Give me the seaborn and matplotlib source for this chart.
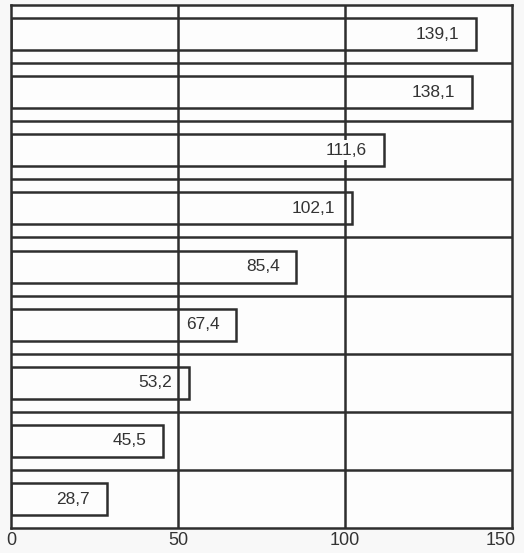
import matplotlib.pyplot as plt
import matplotlib.transforms as mtransforms
import seaborn as sns
import pandas as pd

# neuf lignes, de haut en bas
categories = ['l1', 'l2', 'l3', 'l4', 'l5', 'l6', 'l7', 'l8', 'l9']
valeurs = [139.1, 138.1, 111.6, 102.1, 85.4, 67.4, 53.2, 45.5, 28.7]
etiquettes = [f"{v:.1f}".replace('.', ',') for v in valeurs]
graduations = [0, 50, 100, 150]

sns.set_style('white')
plt.rcParams['font.family'] = ['Liberation Sans', 'DejaVu Sans']

trait = '#2e2e2e'
epaisseur = 1.8
fond = '#fdfdfd'

fig = plt.figure(figsize=(5.24, 5.53), dpi=100, facecolor='#f8f8f8')
ax = fig.add_axes([0.021, 0.045, 0.956, 0.946])
ax.set_facecolor(fond)

df = pd.DataFrame({'categorie': categories, 'valeur': valeurs})
sns.barplot(data=df, x='valeur', y='categorie', orient='h', fill=False,
            color=trait, saturation=1, linewidth=epaisseur, width=0.55, ax=ax)

# quadrillage dessiné à la main, sous les étiquettes
for g in graduations[1:-1]:
    ax.axvline(g, color=trait, lw=epaisseur, zorder=1)
for i in range(len(categories) - 1):
    ax.axhline(i + 0.5, color=trait, lw=epaisseur, zorder=1)

decalage = mtransforms.ScaledTranslation(-12 / 72, 0, fig.dpi_scale_trans)
for i, (v, t) in enumerate(zip(valeurs, etiquettes)):
    ax.text(v, i, t, transform=ax.transData + decalage,
            ha='right', va='center', fontsize=12.5, color='#333333',
            bbox=dict(boxstyle='square,pad=0.15', fc=fond, ec='none'),
            zorder=10)

ax.set_xlim(0, 150)
ax.set_ylim(len(categories) - 0.5, -0.5)
ax.set_xticks(graduations)
ax.grid(False)
ax.tick_params(axis='y', which='both', length=0, labelleft=False)
ax.tick_params(axis='x', length=0, labelsize=13, labelcolor='#333333', pad=3)
ax.set_xlabel('')
ax.set_ylabel('')
for s in ax.spines.values():
    s.set_visible(True)
    s.set_color(trait)
    s.set_linewidth(epaisseur)

# le dernier libellé est décalé pour rester dans l'image
dernier = ax.get_xticklabels()[-1]
dernier.set_transform(dernier.get_transform() +
                      mtransforms.ScaledTranslation(-8 / 72, 0, fig.dpi_scale_trans))

fig.savefig('out.png', dpi=100, facecolor=fig.get_facecolor())
